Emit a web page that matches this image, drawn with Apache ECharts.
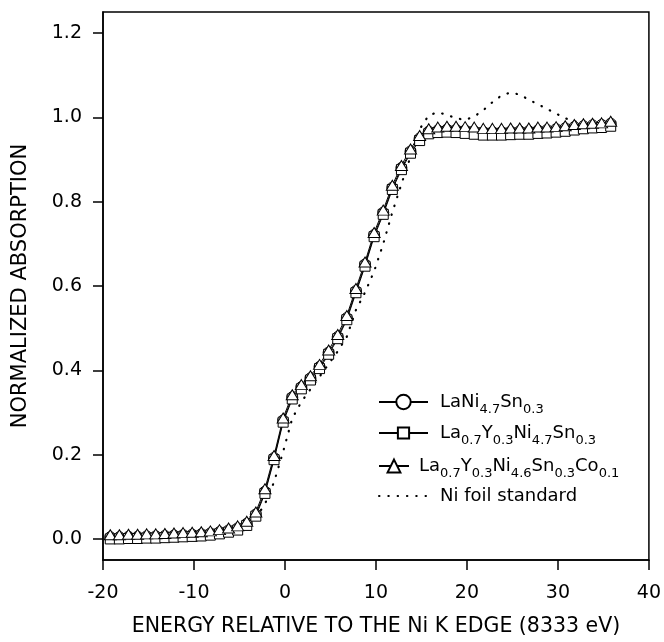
<!DOCTYPE html>
<html>
<head>
<meta charset="utf-8">
<script src="https://cdn.jsdelivr.net/npm/echarts@6/dist/echarts.min.js"></script>
<style>
  html, body { margin: 0; padding: 0; background: #fff; }
  #chart { width: 664px; height: 642px; }
</style>
</head>
<body>
<div id="chart"></div>
<script>
// energy relative to the Ni K edge (eV)
const energy = [
  -19.2, -18.2, -17.2, -16.2, -15.2, -14.2, -13.2, -12.2, -11.2, -10.2,
  -9.2, -8.2, -7.2, -6.2, -5.2, -4.2, -3.2, -2.2, -1.2, -0.2,
  0.8, 1.8, 2.8, 3.8, 4.8, 5.8, 6.8, 7.8, 8.8, 9.8,
  10.8, 11.8, 12.8, 13.8, 14.8, 15.8, 16.8, 17.8, 18.8, 19.8,
  20.8, 21.8, 22.8, 23.8, 24.8, 25.8, 26.8, 27.8, 28.8, 29.8,
  30.8, 31.8, 32.8, 33.8, 34.8, 35.8
];

// LaNi4.7Sn0.3 (circles)
const laNiSn = [
  0.004, 0.004, 0.005, 0.005, 0.006, 0.006, 0.007, 0.008, 0.009, 0.010,
  0.011, 0.013, 0.016, 0.020, 0.025, 0.036, 0.058, 0.112, 0.192, 0.281,
  0.336, 0.360, 0.381, 0.408, 0.442, 0.479, 0.524, 0.588, 0.651, 0.721,
  0.774, 0.833, 0.880, 0.919, 0.950, 0.966, 0.969, 0.971, 0.970, 0.969,
  0.967, 0.965, 0.965, 0.965, 0.966, 0.967, 0.967, 0.969, 0.970, 0.972,
  0.974, 0.977, 0.979, 0.981, 0.982, 0.985
];

// La0.7Y0.3Ni4.7Sn0.3 (squares)
const laYNiSn = [
  0.000, 0.000, 0.001, 0.001, 0.002, 0.002, 0.003, 0.004, 0.005, 0.006,
  0.007, 0.009, 0.012, 0.016, 0.021, 0.032, 0.054, 0.108, 0.188, 0.277,
  0.332, 0.356, 0.377, 0.404, 0.438, 0.475, 0.520, 0.584, 0.647, 0.717,
  0.770, 0.829, 0.876, 0.915, 0.945, 0.961, 0.964, 0.965, 0.964, 0.962,
  0.960, 0.958, 0.958, 0.958, 0.959, 0.960, 0.960, 0.962, 0.963, 0.965,
  0.967, 0.970, 0.973, 0.975, 0.976, 0.979
];

// La0.7Y0.3Ni4.6Sn0.3Co0.1 (triangles)
const laYNiSnCo = [
  0.010, 0.010, 0.011, 0.011, 0.012, 0.012, 0.013, 0.014, 0.015, 0.016,
  0.017, 0.019, 0.022, 0.026, 0.031, 0.042, 0.064, 0.119, 0.198, 0.287,
  0.342, 0.366, 0.387, 0.414, 0.448, 0.485, 0.530, 0.594, 0.657, 0.727,
  0.780, 0.839, 0.886, 0.925, 0.957, 0.973, 0.977, 0.979, 0.979, 0.978,
  0.977, 0.974, 0.974, 0.974, 0.975, 0.975, 0.975, 0.977, 0.977, 0.978,
  0.980, 0.983, 0.985, 0.986, 0.987, 0.991
];

// Ni foil standard (dotted)
const niFoil = [
  0.004, 0.005, 0.006, 0.007, 0.008, 0.009, 0.010, 0.011, 0.012, 0.013,
  0.015, 0.017, 0.019, 0.022, 0.027, 0.035, 0.050, 0.083, 0.135, 0.207,
  0.286, 0.325, 0.355, 0.385, 0.415, 0.445, 0.480, 0.543, 0.585, 0.635,
  0.700, 0.775, 0.842, 0.907, 0.972, 1.005, 1.012, 1.006, 0.998, 0.994,
  1.002, 1.017, 1.036, 1.052, 1.059, 1.054, 1.042, 1.031, 1.020, 1.009,
  0.998, 0.990, 0.988, 0.987, 0.988, 0.990
];

const yTicks = [0, 0.2, 0.4, 0.6, 0.8, 1.0, 1.2];
const seriesNames = ['LaNi4.7Sn0.3', 'La0.7Y0.3Ni4.7Sn0.3', 'La0.7Y0.3Ni4.6Sn0.3Co0.1', 'Ni foil standard'];

const FONT = 'DejaVu Sans';

function pairs(ys) {
  return energy.map((x, i) => [x, ys[i]]);
}

// turn "La0.7Y0.3..." into rich text with subscripts
function subName(name) {
  return name.split(/(\d+\.\d+)/).filter(s => s).map(s =>
    /^\d/.test(s) ? '{s|' + s + '}' : '{n|' + s + '}'
  ).join('');
}

const richText = {
  n: { fontSize: 18, fontFamily: FONT, color: '#000', lineHeight: 30 },
  s: { fontSize: 13, fontFamily: FONT, color: '#000', padding: [15, 0, 0, 0] }
};

function legendRow(name, top, w, h, pad, extra) {
  return Object.assign({
    data: [name],
    left: 378,
    top: top,
    orient: 'vertical',
    padding: 0,
    itemWidth: w,
    itemHeight: h,
    selectedMode: false,
    formatter: subName,
    textStyle: { fontSize: 18, fontFamily: FONT, color: '#000', padding: [0, 0, 0, pad], rich: richText }
  }, extra || {});
}

function markerSeries(name, ys, symbol, size) {
  return {
    name: name,
    type: 'line',
    data: pairs(ys),
    symbol: symbol,
    symbolSize: size,
    showSymbol: true,
    itemStyle: { color: '#fff', borderColor: '#000', borderWidth: 1 },
    lineStyle: { color: '#000', width: 1 },
    emphasis: { disabled: true }
  };
}

var myChart = echarts.init(document.getElementById('chart'));

var option = {
  animation: false,
  backgroundColor: '#fff',
  grid: {
    left: 103, right: 14, top: 12, bottom: 80,
    show: true, borderColor: '#000', borderWidth: 1.5
  },
  legend: [
    legendRow(seriesNames[0], 393, 49, 18, 7),
    legendRow(seriesNames[1], 424, 49, 14, 7),
    legendRow(seriesNames[2], 457, 30, 16, 5),
    legendRow(seriesNames[3], 487, 49, 14, 7, {
      data: [{ name: seriesNames[3], itemStyle: { opacity: 0 } }]
    })
  ],
  xAxis: {
    type: 'value',
    min: -20,
    max: 40,
    interval: 10,
    name: 'ENERGY RELATIVE TO THE Ni K EDGE (8333 eV)',
    nameLocation: 'middle',
    nameGap: 56,
    nameTextStyle: { fontSize: 20.5, fontFamily: FONT, color: '#000' },
    axisLine: { show: true, onZero: false, lineStyle: { color: '#000', width: 1.5 } },
    axisTick: { show: true, inside: false, length: 10, lineStyle: { color: '#000', width: 1.5 } },
    axisLabel: { fontSize: 19, fontFamily: FONT, color: '#000', margin: 24 },
    splitLine: { show: false }
  },
  yAxis: {
    type: 'value',
    min: -0.05,
    max: 1.25,
    name: 'NORMALIZED ABSORPTION',
    nameLocation: 'middle',
    nameGap: 72,
    nameTextStyle: { fontSize: 21, fontFamily: FONT, color: '#000' },
    axisLine: { show: true, onZero: false, lineStyle: { color: '#000', width: 1.5 } },
    axisTick: { show: true, inside: false, length: 10, customValues: yTicks, lineStyle: { color: '#000', width: 1.5 } },
    axisLabel: {
      fontSize: 19, fontFamily: FONT, color: '#000', margin: 21,
      customValues: yTicks,
      formatter: v => v.toFixed(1)
    },
    splitLine: { show: false }
  },
  series: [
    markerSeries(seriesNames[0], laNiSn, 'circle', 11),
    markerSeries(seriesNames[1], laYNiSn, 'rect', 10),
    markerSeries(seriesNames[2], laYNiSnCo, 'triangle', [12, 10]),
    {
      name: seriesNames[3],
      type: 'line',
      data: pairs(niFoil),
      symbol: 'none',
      itemStyle: { color: '#000' },
      lineStyle: { color: '#000', width: 2.2, type: [0.5, 8.8], cap: 'round' },
      emphasis: { disabled: true }
    }
  ]
};

myChart.setOption(option);
</script>
</body>
</html>
